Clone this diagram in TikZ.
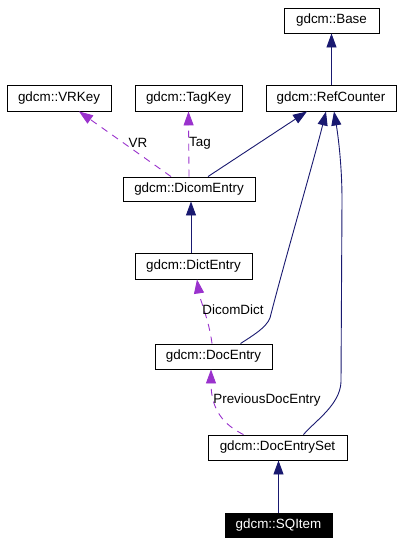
\documentclass[tikz,border=0pt]{standalone}
\usepackage{fontspec}
\setmainfont{Liberation Sans}
\usetikzlibrary{arrows.meta,calc}
\definecolor{inhblue}{HTML}{191970}
\definecolor{usepurple}{HTML}{9A32CD}
\tikzset{
  cls/.style={draw=black, line width=0.9pt, fill=white, inner sep=0pt, minimum height=25pt, font=\fontsize{13.4}{15}\selectfont, text=black},
  hl/.style={cls, fill=black, text=white},
  inh/.style={draw=inhblue, line width=0.9pt, -{Triangle[length=14pt,width=10pt]}, fill=none},
  usage/.style={draw=usepurple, line width=0.9pt, dash pattern=on 7pt off 6pt, -{Triangle[length=14pt,width=10pt]}},
  lbl/.style={font=\fontsize{13.4}{15}\selectfont, inner sep=0pt, text=black},
}
\begin{document}
\begin{tikzpicture}[x=1pt,y=-1pt]
\useasboundingbox (0,0) rectangle (403,544);
\fill[white] (0,0) rectangle (403,544);
\node[cls, minimum width=95pt] (base) at (331.5,20.5) {gdcm::Base};
\node[cls, minimum width=104pt, minimum height=26pt] (vrkey) at (59,98) {gdcm::VRKey};
\node[cls, minimum width=107pt, minimum height=26pt] (tagkey) at (188.5,98) {gdcm::TagKey};
\node[cls, minimum width=130pt, minimum height=26pt] (refc) at (331,98) {gdcm::RefCounter};
\node[cls, minimum width=132pt, minimum height=24pt] (dicom) at (189,189) {gdcm::DicomEntry};
\node[cls, minimum width=117pt, minimum height=26pt] (dict) at (193.5,266) {gdcm::DictEntry};
\node[cls, minimum width=117pt] (doc) at (213.5,356.5) {gdcm::DocEntry};
\node[cls, minimum width=139pt] (docset) at (277.5,447.5) {gdcm::DocEntrySet};
\node[hl, minimum width=107pt, minimum height=24pt] (sq) at (278.5,525) {gdcm::SQItem};

% inheritance
\draw[inh] (refc.north -| base.south) -- (base.south);
\draw[inh] ([xshift=19pt]dicom.north) -- ([xshift=-24pt]refc.south);
\draw[inh] ([xshift=2pt]dicom.south |- dict.north) -- ([xshift=2pt]dicom.south);
\draw[inh] (sq.north) -- (sq.north |- docset.south);
\draw[inh] ([xshift=27pt]doc.north) .. controls (252,336) and (266,328) .. (270,318)
   .. controls (282,270) and (314,160) .. ([xshift=-5pt]refc.south);
\draw[inh] ([xshift=26pt]docset.north) .. controls (315,421) and (340,405) .. (341,382)
   -- (342,200) .. controls (342,165) and (338,135) .. ([xshift=3pt]refc.south);

% usage
\draw[usage] ([xshift=-18pt]dicom.north) -- ([xshift=20pt]vrkey.south);
\node[lbl] (vrlbl) at (138,143) {VR};
\draw[usage] (dicom.north) -- (tagkey.south);
\node[lbl, anchor=west] (taglbl) at (189,143) {Tag};
\draw[usage] ([xshift=-1.5pt]doc.north) .. controls (209,320) and (200,300) .. ([xshift=3.5pt]dict.south);
\node[lbl] (dictlbl) at (233,310) {DicomDict};
\draw[usage] ([xshift=-34pt]docset.north) .. controls (224,425) and (211,410) .. ([xshift=-2.5pt]doc.south);
\node[lbl] (prevlbl) at (267,400) {PreviousDocEntry};
\end{tikzpicture}
\end{document}
